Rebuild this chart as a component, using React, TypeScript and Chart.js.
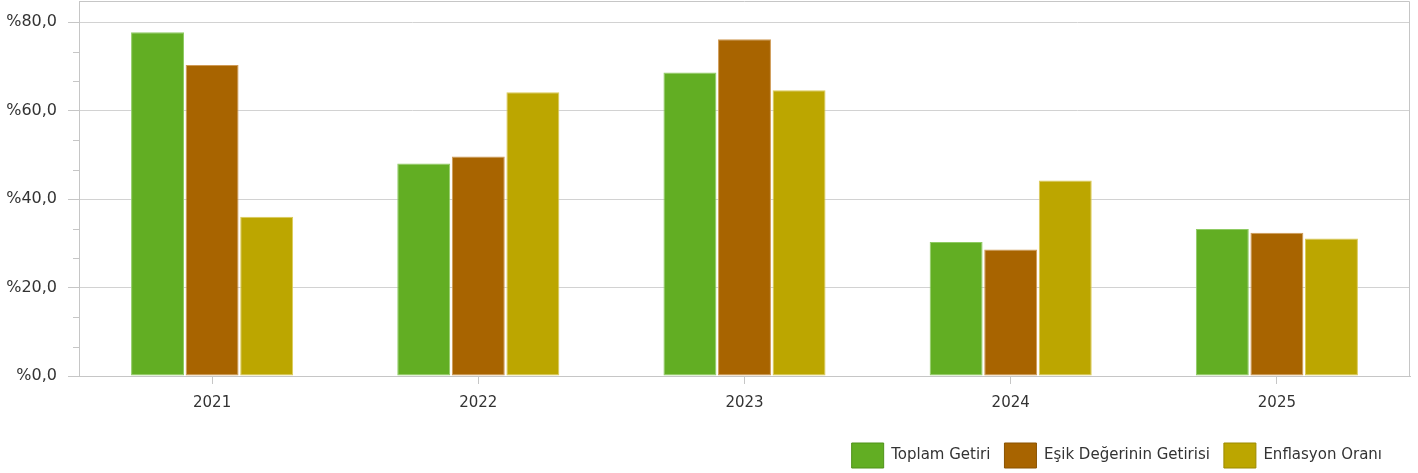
import React, { useEffect, useRef } from "react";
import { Chart, registerables } from "chart.js";

Chart.register(...registerables);

const categories = ["2021", "2022", "2023", "2024", "2025"];
const seriesNames = ["Toplam Getiri", "Eşik Değerinin Getirisi", "Enflasyon Oranı"];
const toplamGetiri = [77.7, 48.0, 68.6, 30.3, 33.2];
const esikGetirisi = [70.3, 49.6, 76.1, 28.6, 32.4];
const enflasyonOrani = [36.0, 64.1, 64.6, 44.2, 31.1];
const yTickValues = [0, 20, 40, 60, 80];
const yMinorStep = 20 / 3;

const fillColors = ["#62ae23", "#a86400", "#bca600"];
const barBorderColors = ["#8fcb63", "#cf9a55", "#dccb58"];
const legendBorderColors = ["#4f9219", "#8a5200", "#9c8a00"];

const FONT = "'DejaVu Sans', Verdana, sans-serif";
const TEXT = "#333333";
const GRID = "#d2d2d2";
const AXIS = "#c6c6c6";

export default function App() {
  const ref = useRef<HTMLCanvasElement | null>(null);

  useEffect(() => {
    document.body.style.margin = "0";
    if (!ref.current) return;

    const minorTicks = {
      id: "minorTicks",
      afterDraw(chart: any) {
        const y = chart.scales.y;
        const ctx = chart.ctx;
        ctx.save();
        ctx.strokeStyle = AXIS;
        ctx.lineWidth = 1;
        for (let v = yMinorStep; v < y.max; v += yMinorStep) {
          if (Math.abs(v / 20 - Math.round(v / 20)) < 1e-6) continue;
          const py = Math.round(y.getPixelForValue(v)) + 0.5;
          ctx.beginPath();
          ctx.moveTo(chart.chartArea.left - 6, py);
          ctx.lineTo(chart.chartArea.left, py);
          ctx.stroke();
        }
        const a = chart.chartArea;
        ctx.beginPath();
        ctx.moveTo(Math.round(a.left) + 0.5, Math.round(a.top) + 0.5);
        ctx.lineTo(Math.round(a.right) - 0.5, Math.round(a.top) + 0.5);
        ctx.lineTo(Math.round(a.right) - 0.5, Math.round(a.bottom));
        ctx.stroke();
        ctx.restore();
      },
    };

    const legendShift = {
      id: "legendShift",
      afterLayout(chart: any) {
        const lg = chart.legend;
        if (!lg) return;
        lg.top += 5;
        lg.bottom += 5;
        lg.right -= 14;
      },
    };

    const chart = new Chart(ref.current, {
      type: "bar",
      data: {
        labels: categories,
        datasets: [toplamGetiri, esikGetirisi, enflasyonOrani].map((d, i) => ({
          label: seriesNames[i],
          data: d,
          backgroundColor: fillColors[i],
          borderColor: barBorderColors[i],
          borderWidth: 1,
          borderSkipped: false,
          barPercentage: 0.97,
          categoryPercentage: 0.615,
        })),
      },
      options: {
        animation: false,
        responsive: true,
        maintainAspectRatio: false,
        layout: { padding: { top: 1, right: 8, bottom: 0, left: 0 } },
        plugins: {
          tooltip: { enabled: false },
          legend: {
            position: "bottom",
            align: "end",
            labels: {
              boxWidth: 32,
              boxHeight: 25,
              padding: 14,
              color: TEXT,
              font: { family: FONT, size: 15 },
              generateLabels(c: any) {
                const items = Chart.defaults.plugins.legend.labels.generateLabels(c);
                return items.map((it: any, i: number) => ({
                  ...it,
                  fillStyle: fillColors[i],
                  strokeStyle: legendBorderColors[i],
                  lineWidth: 1,
                }));
              },
            },
          },
        },
        scales: {
          x: {
            offset: true,
            grid: {
              offset: false,
              drawOnChartArea: false,
              drawTicks: true,
              tickLength: 8,
              color: AXIS,
            },
            border: { display: true, color: AXIS, width: 1 },
            ticks: {
              color: TEXT,
              font: { family: FONT, size: 15 },
              padding: 10,
              maxRotation: 0,
            },
            afterFit(scale: any) {
              scale.height = 48;
              scale.paddingLeft = 0;
              scale.paddingRight = 0;
            },
          },
          y: {
            min: 0,
            max: 84.75,
            afterBuildTicks(scale: any) {
              scale.ticks = yTickValues.map((v) => ({ value: v }));
            },
            grid: {
              color: GRID,
              lineWidth: 1,
              tickLength: 11,
              tickColor: AXIS,
            },
            border: { display: true, color: AXIS, width: 1 },
            ticks: {
              color: TEXT,
              font: { family: FONT, size: 16 },
              padding: 11,
              callback: (v: any) => "%" + Number(v).toFixed(1).replace(".", ","),
            },
            afterFit(scale: any) {
              scale.width = 79;
              scale.paddingTop = 0;
              scale.paddingBottom = 0;
            },
          },
        },
      },
      plugins: [minorTicks, legendShift],
    });

    return () => chart.destroy();
  }, []);

  return (
    <div style={{ width: 1418, height: 473, position: "relative", overflow: "hidden" }}>
      <canvas ref={ref} style={{ display: "block" }} />
    </div>
  );
}
